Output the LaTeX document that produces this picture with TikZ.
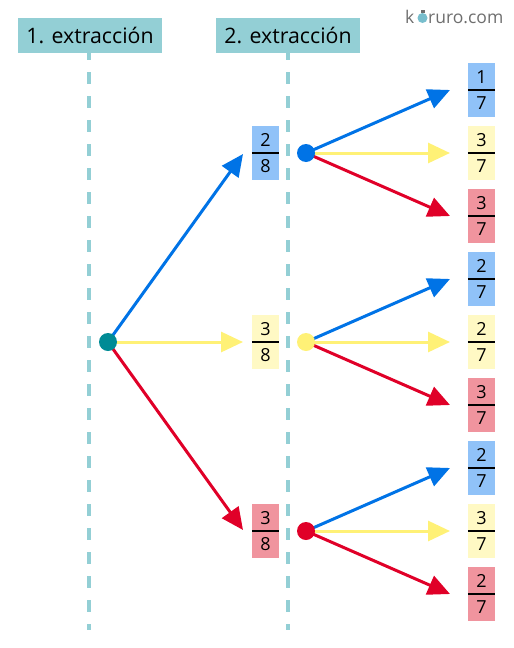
\documentclass[tikz,border=0pt]{standalone}
\usepackage{fontspec}
\setmainfont{Open Sans}
\usetikzlibrary{arrows.meta}
\definecolor{hdr}{RGB}{147,207,213}
\definecolor{cblue}{RGB}{0,115,230}
\definecolor{cyel}{RGB}{255,241,118}
\definecolor{cred}{RGB}{224,0,40}
\definecolor{fblue}{RGB}{144,194,248}
\definecolor{fyel}{RGB}{255,249,196}
\definecolor{fred}{RGB}{240,148,158}
\definecolor{croot}{RGB}{0,139,149}
\definecolor{logogray}{RGB}{110,110,110}
\definecolor{bulb}{RGB}{120,190,205}
\newcommand\fracbox[6]{%
  \node[fbox, fill=#4] (#1) at (#2,#3) {};
  \node[digit] (#1n) at ([yshift=13pt]#1.center) {#5};
  \node[digit] (#1d) at ([yshift=-13.5pt]#1.center) {#6};
  \draw[line width=2pt] (#1.west) -- (#1.east);
}
\begin{document}
\begin{tikzpicture}[x=1pt,y=-1pt,
  hdrbox/.style={fill=hdr, minimum width=144pt, minimum height=35pt, inner sep=0pt, font=\fontsize{21.3}{24}\selectfont},
  guide/.style={draw=hdr, line width=4pt, dash pattern=on 12pt off 12pt, dash phase=5pt},
  arr/.style={line width=3pt, -{Triangle[length=22pt,width=20pt]}},
  dot/.style={circle, inner sep=0pt, minimum size=18pt},
  fbox/.style={minimum width=27pt, minimum height=54pt, inner sep=0pt},
  digit/.style={font=\fontsize{18}{18}\selectfont, inner sep=0pt},
  logo/.style={text=logogray, font=\fontsize{17.5}{17.5}\selectfont, inner sep=0pt, anchor=base west}
]
\useasboundingbox (0,0) rectangle (514,648);

% logo
\node[logo] (lk) at (405,23) {k};
\fill[bulb] (422.5,18) circle (5pt);
\fill[logogray] (420.5,10) rectangle (424.5,13);
\node[logo] (lr) at (428,23) {ruro.com};

% headers and guides
\node[hdrbox] (h1) at (90,35.5) {1. extracción};
\node[hdrbox] (h2) at (288,35.5) {2. extracción};
\coordinate (g1) at (89,630);
\coordinate (g2) at (288,630);
\draw[guide] (89,53) -- (g1);
\draw[guide] (288,53) -- (g2);

% dots
\node[dot] (root) at (108,342) {};
\node[dot] (da) at (306,153) {};
\node[dot] (db) at (306,342) {};
\node[dot] (dc) at (306,531) {};

% tips
\coordinate (t1a) at (243,154);
\coordinate (t1b) at (243,342);
\coordinate (t1c) at (243,530);
\foreach \n/\y in {aa/90,ab/153,ac/216,ba/279,bb/342,bc/405,ca/468,cb/531,cc/594}
  \coordinate (t\n) at (450,\y);

% arrows
\draw[arr, cblue] (root.center) -- (t1a);
\draw[arr, cyel] (root.center) -- (t1b);
\draw[arr, cred] (root.center) -- (t1c);
\foreach \d in {a,b,c}{
  \draw[arr, cblue] (d\d.center) -- (t\d a);
  \draw[arr, cyel] (d\d.center) -- (t\d b);
  \draw[arr, cred] (d\d.center) -- (t\d c);
}

% dots drawn on top
\fill[croot] (root) circle (9pt);
\fill[cblue] (da) circle (9pt);
\fill[cyel] (db) circle (9pt);
\fill[cred] (dc) circle (9pt);

% fractions level 2
\fracbox{fa}{265.5}{153}{fblue}{2}{8}
\fracbox{fb}{265.5}{342}{fyel}{3}{8}
\fracbox{fc}{265.5}{531}{fred}{3}{8}
% fractions level 3
\fracbox{faa}{481.5}{90}{fblue}{1}{7}
\fracbox{fab}{481.5}{153}{fyel}{3}{7}
\fracbox{fac}{481.5}{216}{fred}{3}{7}
\fracbox{fba}{481.5}{279}{fblue}{2}{7}
\fracbox{fbb}{481.5}{342}{fyel}{2}{7}
\fracbox{fbc}{481.5}{405}{fred}{3}{7}
\fracbox{fca}{481.5}{468}{fblue}{2}{7}
\fracbox{fcb}{481.5}{531}{fyel}{3}{7}
\fracbox{fcc}{481.5}{594}{fred}{2}{7}
\end{tikzpicture}
\end{document}
